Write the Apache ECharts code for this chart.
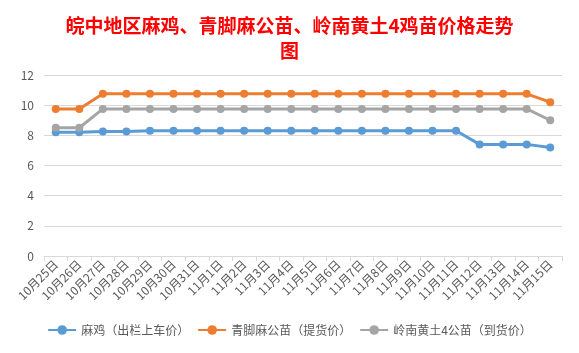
<!DOCTYPE html>
<html><head><meta charset="utf-8">
<script src="https://cdn.jsdelivr.net/npm/echarts@6/dist/echarts.min.js"></script>
<style>html,body{margin:0;padding:0;background:#fff}#c{width:579px;height:353px}</style>
</head><body><div id="c"></div>
<script>
const categories = ['10月25日','10月26日','10月27日','10月28日','10月29日','10月30日','10月31日','11月1日','11月2日','11月3日','11月4日','11月5日','11月6日','11月7日','11月8日','11月9日','11月10日','11月11日','11月12日','11月13日','11月14日','11月15日'];
const majiValues = [8.2,8.2,8.25,8.25,8.3,8.3,8.3,8.3,8.3,8.3,8.3,8.3,8.3,8.3,8.3,8.3,8.3,8.3,7.4,7.4,7.4,7.2];
const qingjiaoValues = [9.75,9.75,10.75,10.75,10.75,10.75,10.75,10.75,10.75,10.75,10.75,10.75,10.75,10.75,10.75,10.75,10.75,10.75,10.75,10.75,10.75,10.2];
const lingnanValues = [8.5,8.5,9.75,9.75,9.75,9.75,9.75,9.75,9.75,9.75,9.75,9.75,9.75,9.75,9.75,9.75,9.75,9.75,9.75,9.75,9.75,9.0];
const seriesNames = ['麻鸡（出栏上车价）','青脚麻公苗（提货价）','岭南黄土4公苗（到货价）'];
const titleText = '皖中地区麻鸡、青脚麻公苗、岭南黄土4鸡苗价格走势\n图';

const colors = ['#5B9BD5','#ED7D31','#A5A5A5'];
const font = '"Microsoft YaHei","Noto Sans CJK SC",sans-serif';
const chart = echarts.init(document.getElementById('c'));
function mk(name, data, color){
  return {name, type:'line', data, symbol:'circle', symbolSize:8,
    lineStyle:{width:3,color}, itemStyle:{color}, emphasis:{disabled:true}};
}
chart.setOption({
  animation:false,
  title:{text:titleText,left:'center',top:8,
    textStyle:{color:'#FF0000',fontSize:19,fontWeight:'bold',fontFamily:'"Noto Sans CJK SC",sans-serif',lineHeight:25}},
  grid:{left:44,right:17,top:75,bottom:97,containLabel:false},
  legend:{bottom:12,left:'center',itemWidth:28,itemHeight:12,itemGap:8,
    textStyle:{color:'#595959',fontSize:12,fontFamily:font},
    data:seriesNames},
  xAxis:{type:'category',data:categories,boundaryGap:true,
    axisLine:{lineStyle:{color:'#D9D9D9'}},
    axisTick:{show:true,alignWithLabel:false,length:5,lineStyle:{color:'#D9D9D9'}},
    axisLabel:{rotate:45,interval:0,color:'#595959',fontSize:12,fontFamily:font,margin:6}},
  yAxis:{type:'value',min:0,max:12,interval:2,
    axisLine:{show:false},axisTick:{show:false},
    splitLine:{lineStyle:{color:'#D9D9D9'}},
    axisLabel:{color:'#595959',fontSize:12,fontFamily:font,margin:10}},
  series:[mk(seriesNames[0],majiValues,colors[0]),mk(seriesNames[1],qingjiaoValues,colors[1]),mk(seriesNames[2],lingnanValues,colors[2])]
});
</script></body></html>
